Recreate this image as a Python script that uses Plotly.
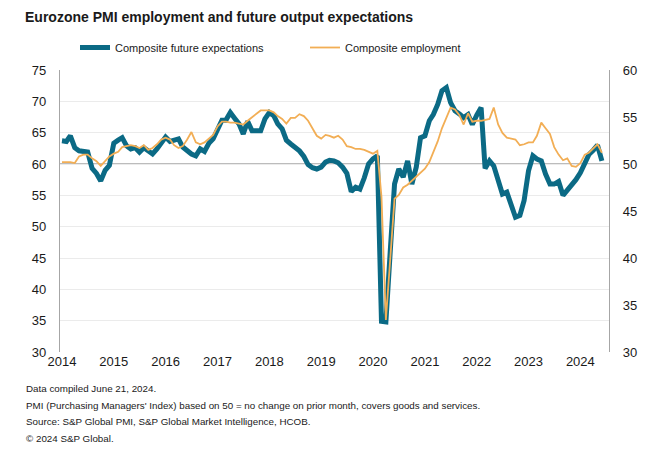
import pandas as pd
import plotly.graph_objects as go

# ---- data (monthly, Jan 2014 - Jun 2024) ----
start_month = "2014-01-01"

future_expectations = [
    63.7, 63.6, 64.5, 62.6, 62.1, 61.9, 61.9, 59.3, 58.5, 57.3, 59.0, 59.8,   # 2014
    63.3, 63.8, 64.2, 62.9, 62.4, 62.6, 61.9, 62.6, 62.1, 61.6, 62.4, 63.4,   # 2015
    64.3, 63.6, 63.8, 64.0, 62.7, 62.1, 61.6, 61.3, 62.4, 62.0, 63.3, 64.0,   # 2016
    65.6, 67.0, 67.0, 68.2, 67.3, 66.4, 64.8, 66.8, 65.3, 65.2, 65.3, 67.2,   # 2017
    68.2, 67.7, 66.4, 65.6, 63.8, 63.2, 62.7, 62.1, 61.2, 59.9, 59.4, 59.2,   # 2018
    59.5, 60.3, 60.6, 60.5, 60.2, 59.5, 58.5, 55.6, 56.3, 56.0, 57.8, 60.0,   # 2019
    60.8, 61.3, 34.9, 34.8, 45.8, 56.8, 59.2, 57.9, 60.5, 56.8, 59.5, 64.2,   # 2020
    64.5, 66.9, 67.9, 69.5, 71.7, 72.2, 69.8, 68.5, 68.0, 67.4, 67.9, 66.3,   # 2021
    67.8, 69.0, 59.3, 60.5, 59.7, 57.6, 55.2, 55.5, 53.5, 51.5, 51.8, 54.2,   # 2022
    58.9, 61.3, 60.8, 60.5, 58.4, 56.8, 56.8, 57.2, 55.0, 55.8, 56.6, 57.5,   # 2023
    58.6, 60.0, 61.5, 62.2, 63.0, 60.5,                                       # 2024
]

employment = [
    50.2, 50.2, 50.2, 50.1, 50.8, 51.0, 51.0, 50.6, 50.3, 49.8, 50.3, 50.8,   # 2014
    51.1, 51.3, 51.8, 51.9, 52.0, 51.9, 51.7, 52.0, 51.5, 51.7, 52.1, 52.6,   # 2015
    52.8, 52.6, 52.0, 51.7, 51.9, 52.6, 53.4, 52.3, 52.1, 52.3, 52.7, 53.1,   # 2016
    54.0, 54.5, 54.5, 54.4, 54.4, 54.3, 54.2, 54.6, 55.0, 55.4, 55.7, 55.7,   # 2017
    55.7, 55.5, 55.1, 54.8, 54.3, 54.9, 54.9, 55.3, 55.1, 54.6, 53.8, 53.0,   # 2018
    52.7, 53.1, 53.0, 52.8, 53.0, 52.6, 51.9, 51.8, 51.6, 51.6, 51.5, 51.3,   # 2019
    51.1, 51.4, 46.5, 33.4, 39.9, 46.3, 46.7, 47.5, 47.8, 48.2, 48.6, 49.0,   # 2020
    49.5, 50.2, 51.3, 52.4, 53.8, 55.0, 56.0, 55.8, 55.2, 54.2, 55.4, 54.5,   # 2021
    54.6, 54.6, 54.7, 54.8, 56.0, 54.2, 53.3, 52.8, 52.7, 52.6, 52.0, 52.1,   # 2022
    52.3, 52.3, 53.0, 54.4, 53.8, 53.2, 51.8, 51.0, 50.4, 50.6, 49.8, 49.7,   # 2023
    50.1, 51.0, 51.2, 51.7, 52.1, 51.2,                                       # 2024
]

year_ticks = ["2014", "2015", "2016", "2017", "2018", "2019",
              "2020", "2021", "2022", "2023", "2024"]
left_ticks = [30, 35, 40, 45, 50, 55, 60, 65, 70, 75]
right_ticks = [30, 35, 40, 45, 50, 55, 60]

series_names = ["Composite future expectations", "Composite employment"]
title_text = "Eurozone PMI employment and future output expectations"
footnotes = [
    "Data compiled June 21, 2024.",
    "PMI (Purchasing Managers' Index) based on 50 = no change on prior month, covers goods and services.",
    "Source: S&P Global PMI, S&P Global Market Intelligence, HCOB.",
    "\u00a9 2024 S&P Global.",
]

dates = pd.date_range(start_month, periods=len(future_expectations), freq="MS")

FONT = "Liberation Sans, Arial, sans-serif"
BLUE = "#0b6a85"
ORANGE = "#f2ae55"
TXT = "#1a1a1a"

fig = go.Figure()
fig.add_trace(go.Scatter(
    x=dates, y=future_expectations, name=series_names[0], mode="lines",
    line=dict(color=BLUE, width=5), yaxis="y",
))
fig.add_trace(go.Scatter(
    x=dates, y=employment, name=series_names[1], mode="lines",
    line=dict(color=ORANGE, width=1.8), yaxis="y2",
))

# the browser's default 8px body margin shifts the figure; size it to fit the window
OFF = 8
W, H = 654 - OFF, 459 - OFF
L, T = 60 - OFF, 70 - OFF
R = W - (609 - OFF)
B = H - (352 - OFF)
pw, ph = W - L - R, H - T - B

def px_x(px):
    return (px - OFF - L) / pw

def px_y(py):
    return 1 - (py - OFF - T) / ph

annotations = []
for i, line in enumerate(footnotes):
    annotations.append(dict(
        text=line, xref="paper", yref="paper", x=px_x(24), y=px_y(388.5 + i * 16.7),
        xanchor="left", yanchor="middle", showarrow=False,
        font=dict(family=FONT, size=9.8, color=TXT),
    ))

fig.update_layout(
    width=W, height=H,
    margin=dict(l=L, r=R, t=T, b=B),
    paper_bgcolor="white", plot_bgcolor="white",
    title=dict(
        text="<b>" + title_text + "</b>", xref="container", yref="container",
        x=(25 - OFF) / W, y=1 - (17.5 - OFF) / H, xanchor="left", yanchor="middle",
        font=dict(family=FONT, size=14, color=TXT),
    ),
    showlegend=True,
    legend=dict(
        orientation="h", x=px_x(75), y=px_y(47.5), xanchor="left", yanchor="middle",
        font=dict(family=FONT, size=11, color=TXT),
        entrywidth=185, entrywidthmode="pixels",
        bgcolor="rgba(0,0,0,0)", itemclick=False,
    ),
    xaxis=dict(
        type="date", range=["2013-12-18", "2024-07-21"],
        tickvals=[f"{y}-01-01" for y in year_ticks], ticktext=year_ticks,
        showgrid=False, showline=False, zeroline=False, ticks="",
        tickfont=dict(family=FONT, size=13, color=TXT),
    ),
    yaxis=dict(
        range=[30, 75], tickvals=left_ticks, showgrid=True, gridcolor="#ebebeb",
        gridwidth=1, showline=True, linecolor="#a6a6a6", linewidth=1.3,
        zeroline=False, ticks="", ticklabelstandoff=10,
        tickfont=dict(family=FONT, size=13, color=TXT),
    ),
    yaxis2=dict(
        range=[30, 60], tickvals=right_ticks, overlaying="y", side="right",
        showgrid=False, showline=True, linecolor="#a6a6a6", linewidth=1.3,
        zeroline=False, ticks="", ticklabelstandoff=10,
        tickfont=dict(family=FONT, size=13, color=TXT),
    ),
    shapes=[dict(
        type="line", xref="paper", yref="y", x0=0, x1=1, y0=60, y1=60,
        line=dict(color="#a6a6a6", width=1.3), layer="below",
    )],
    annotations=annotations,
)

fig.write_html("out.html")
